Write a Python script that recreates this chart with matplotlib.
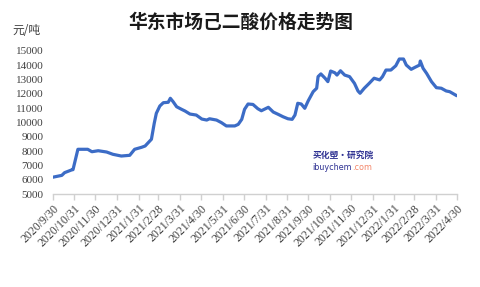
import matplotlib
matplotlib.use("Agg")
import matplotlib.pyplot as plt
import pandas as pd

plt.rcParams['font.family'] = ['Liberation Serif', 'Noto Sans CJK SC', 'DejaVu Sans']

title = "华东市场己二酸价格走势图"
unit = "元/吨"

dates = [
    "2020-09-30", "2020-10-13", "2020-10-17", "2020-10-27", "2020-10-29",
    "2020-11-05", "2020-11-19", "2020-11-25", "2020-12-04", "2020-12-16",
    "2020-12-25", "2021-01-06", "2021-01-18", "2021-01-25", "2021-02-04",
    "2021-02-09", "2021-02-18", "2021-02-22", "2021-02-25", "2021-03-02",
    "2021-03-07", "2021-03-14", "2021-03-17", "2021-03-21", "2021-03-26",
    "2021-04-02", "2021-04-07", "2021-04-14", "2021-04-23", "2021-05-01",
    "2021-05-08", "2021-05-12", "2021-05-22", "2021-05-29", "2021-06-05",
    "2021-06-17", "2021-06-22", "2021-06-27", "2021-07-01", "2021-07-06",
    "2021-07-13", "2021-07-20", "2021-07-25", "2021-08-04", "2021-08-11",
    "2021-08-18", "2021-08-25", "2021-09-01", "2021-09-07", "2021-09-11",
    "2021-09-15", "2021-09-20", "2021-09-25", "2021-09-30", "2021-10-07",
    "2021-10-12", "2021-10-14", "2021-10-18", "2021-10-24", "2021-10-28",
    "2021-11-01", "2021-11-07", "2021-11-10", "2021-11-15", "2021-11-21",
    "2021-11-28", "2021-12-05", "2021-12-10", "2021-12-13", "2021-12-19",
    "2021-12-26", "2022-01-02", "2022-01-10", "2022-01-14", "2022-01-19",
    "2022-01-26", "2022-02-02", "2022-02-07", "2022-02-13", "2022-02-17",
    "2022-02-24", "2022-03-01", "2022-03-08", "2022-03-09", "2022-03-13",
    "2022-03-18", "2022-03-25", "2022-04-01", "2022-04-08", "2022-04-15",
    "2022-04-20", "2022-04-30",
]
prices = [
    6170, 6300, 6490, 6680, 6700,
    8120, 8120, 7950, 8020, 7930,
    7770, 7650, 7700, 8120, 8260,
    8350, 8820, 9930, 10630, 11140,
    11370, 11400, 11680, 11440, 11090,
    10910, 10790, 10580, 10510, 10230,
    10160, 10250, 10160, 9980, 9750,
    9750, 9860, 10210, 10910, 11280,
    11250, 10950, 10810, 11050, 10720,
    10560, 10390, 10250, 10210, 10510,
    11330, 11280, 10980, 11510, 12140,
    12380, 13190, 13380, 13080, 12840,
    13580, 13460, 13300, 13600, 13300,
    13190, 12720, 12190, 12030, 12380,
    12720, 13080, 12960, 13190, 13650,
    13650, 13950, 14420, 14420, 14000,
    13700, 13830, 14000, 14280, 13770,
    13420, 12840, 12420, 12380, 12190,
    12140, 11860,
]

tick_dates = [
    "2020-09-30", "2020-10-31", "2020-11-30", "2020-12-31", "2021-01-31",
    "2021-02-28", "2021-03-31", "2021-04-30", "2021-05-31", "2021-06-30",
    "2021-07-31", "2021-08-31", "2021-09-30", "2021-10-31", "2021-11-30",
    "2021-12-31", "2022-01-31", "2022-02-28", "2022-03-31", "2022-04-30",
]
tick_labels = [
    "2020/9/30", "2020/10/31", "2020/11/30", "2020/12/31", "2021/1/31",
    "2021/2/28", "2021/3/31", "2021/4/30", "2021/5/31", "2021/6/30",
    "2021/7/31", "2021/8/31", "2021/9/30", "2021/10/31", "2021/11/30",
    "2021/12/31", "2022/1/31", "2022/2/28", "2022/3/31", "2022/4/30",
]
y_ticks = list(range(5000, 15001, 1000))

W, H = 480, 287
fig = plt.figure(figsize=(W / 100, H / 100), dpi=100)
ax = fig.add_axes([52.7 / W, 1 - 194 / H, (456.7 - 52.7) / W, (194 - 50.7) / H])

x = pd.to_datetime(dates)
ax.plot(x, prices, color="#3c6cc6", lw=2.3, solid_joinstyle="round", solid_capstyle="round")

tx = pd.to_datetime(tick_dates)
ax.set_xlim(tx[0], tx[-1])
ax.set_ylim(5000, 15000)
ax.set_xticks(tx)
ax.set_xticklabels(tick_labels, rotation=45, ha="right", rotation_mode="anchor",
                   fontsize=8.5, color="#404040")
ax.set_yticks(y_ticks)
ax.set_yticklabels([str(v) for v in y_ticks], fontsize=8, color="#404040")

for s in ["top", "right", "left"]:
    ax.spines[s].set_visible(False)
ax.spines["bottom"].set_color("#d0d0d0")
ax.spines["bottom"].set_linewidth(1.0)
ax.tick_params(axis="x", length=4, width=1.0, color="#d0d0d0", pad=2)
ax.tick_params(axis="y", length=0, pad=6.5)

fig.text(241 / W, 1 - 22 / H, title, ha="center", va="center", fontsize=13.5,
         family=["Noto Sans CJK SC"], weight="bold", color="#1a1a1a")
fig.text(12 / W, 1 - 31 / H, unit, ha="left", va="center", fontsize=8.5,
         family=["Noto Sans CJK SC"], color="#404040")

fig.text(312.7 / W, 1 - 156.5 / H, "买化塑·研究院", ha="left", va="center", fontsize=6.3,
         family=["Noto Sans CJK SC"], weight="bold", style="italic", color="#2e3192")
t1 = fig.text(312.7 / W, 1 - 169.5 / H, "ibuychem", ha="left", va="baseline", fontsize=5.8,
              family=["DejaVu Sans"], color="#2e3192")
fig.canvas.draw()
bb = t1.get_window_extent(renderer=fig.canvas.get_renderer())
fig.text((bb.x1 + 0.2) / W, 1 - 169.5 / H, ".com", ha="left", va="baseline", fontsize=5.8,
         family=["DejaVu Sans"], color="#f4876a")

fig.savefig("out.png", dpi=100)
